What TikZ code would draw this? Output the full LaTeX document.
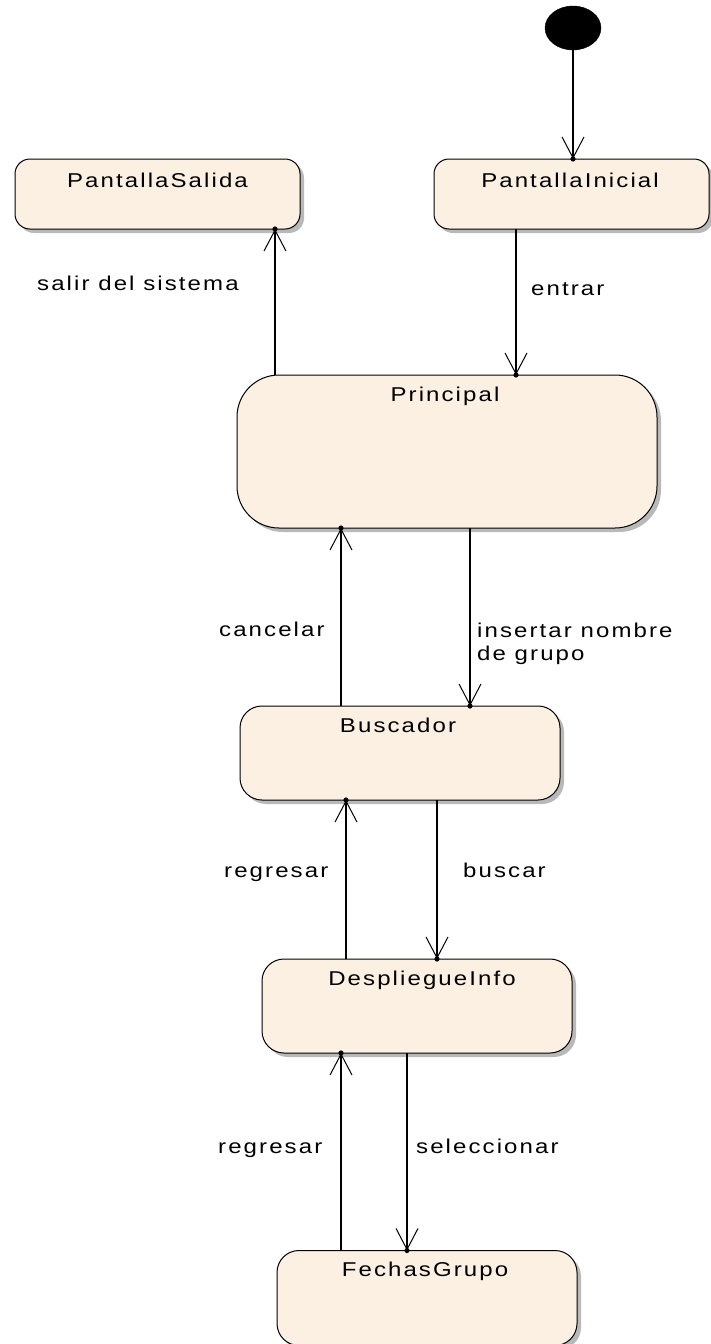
\documentclass[tikz,border=0pt]{standalone}
\usepackage{fontspec}
\newfontfamily\uifont{Liberation Sans}[FakeStretch=1.2,LetterSpace=10.5]
\usetikzlibrary{arrows.meta,shapes.geometric,shadows,decorations.markings}
\definecolor{statefill}{RGB}{251,240,225}
\definecolor{shadowgray}{RGB}{185,185,185}

\begin{document}
\begin{tikzpicture}[x=1pt,y=-1pt,
  state/.style={draw=black, line width=1pt, fill=statefill, rounded corners=#1,
    inner sep=0pt, outer sep=0pt,
    drop shadow={shadow xshift=4pt, shadow yshift=-4pt, fill=shadowgray, opacity=1}},
  state/.default=15pt,
  startdot/.style={ellipse, fill=black, draw=black, minimum width=56pt,
    minimum height=44pt, inner sep=0pt, outer sep=0pt},
  title/.style={font=\uifont\fontsize{20}{23}\selectfont, anchor=base, inner sep=0pt},
  evlabel/.style={font=\uifont\fontsize{20}{23}\selectfont, anchor=base west, inner sep=0pt},
  tr/.style={line width=1.1pt,
    -{Straight Barb[length=21pt,width=22pt,line width=1pt]},
    decoration={markings, mark=at position 1 with {\fill (0,0) circle (2.6pt);}},
    postaction={decorate}}]

\path[use as bounding box] (0,0) rectangle (711,1344);
\clip (0,0) rectangle (711,1344);

% states
\node[startdot] (init) at (573,28) {};
\node[state, minimum width=285pt, minimum height=70pt] (sal) at (157.5,194) {};
\node[state, minimum width=275pt, minimum height=70pt] (ini) at (571.5,194) {};
\node[state=42pt, minimum width=420pt, minimum height=153pt] (pri) at (447,451.5) {};
\node[state=22pt, minimum width=320pt, minimum height=94pt] (bus) at (400,753) {};
\node[state=22pt, minimum width=310pt, minimum height=94pt] (des) at (417,1006) {};
\node[state=22pt, minimum width=300pt, minimum height=95pt] (fec) at (427,1298) {};

% state names
\node[title] (tsal) at (157.5,187) {PantallaSalida};
\node[title] (tini) at (570,187) {PantallaInicial};
\node[title] (tpri) at (445,401) {Principal};
\node[title] (tbus) at (398,732) {Buscador};
\node[title] (tdes) at (422,985) {DespliegueInfo};
\node[title] (tfec) at (425,1276) {FechasGrupo};

% x positions of the transitions
\coordinate (xEnt) at (516,0);
\coordinate (xSal) at (275,0);
\coordinate (xIns) at (470,0);
\coordinate (xCan) at (341,0);
\coordinate (xBus) at (437,0);
\coordinate (xReg) at (346,0);
\coordinate (xSel) at (407,0);
\coordinate (xRe2) at (341,0);

% transitions
\draw[tr] (init.south) -- (ini.north -| init.south);
\draw[tr] (ini.south -| xEnt) -- (pri.north -| xEnt);
\draw[tr] (pri.north -| xSal) -- (sal.south -| xSal);
\draw[tr] (pri.south -| xIns) -- (bus.north -| xIns);
\draw[tr] (bus.north -| xCan) -- (pri.south -| xCan);
\draw[tr] (bus.south -| xBus) -- (des.north -| xBus);
\draw[tr] (des.north -| xReg) -- (bus.south -| xReg);
\draw[tr] (des.south -| xSel) -- (fec.north -| xSel);
\draw[tr] (fec.north -| xRe2) -- (des.south -| xRe2);

% transition labels
\node[evlabel] (lsal) at (37,290) {salir del sistema};
\node[evlabel] (lent) at (531,295) {entrar};
\node[evlabel] (lcan) at (219,636) {cancelar};
\node[evlabel, align=left, anchor=north west] (lins) at (477,622.4) {insertar nombre\\de grupo};
\node[evlabel] (lreg) at (224,877) {regresar};
\node[evlabel] (lbus) at (463,877) {buscar};
\node[evlabel] (lre2) at (218,1153) {regresar};
\node[evlabel] (lsel) at (416,1153) {seleccionar};

\end{tikzpicture}
\end{document}
